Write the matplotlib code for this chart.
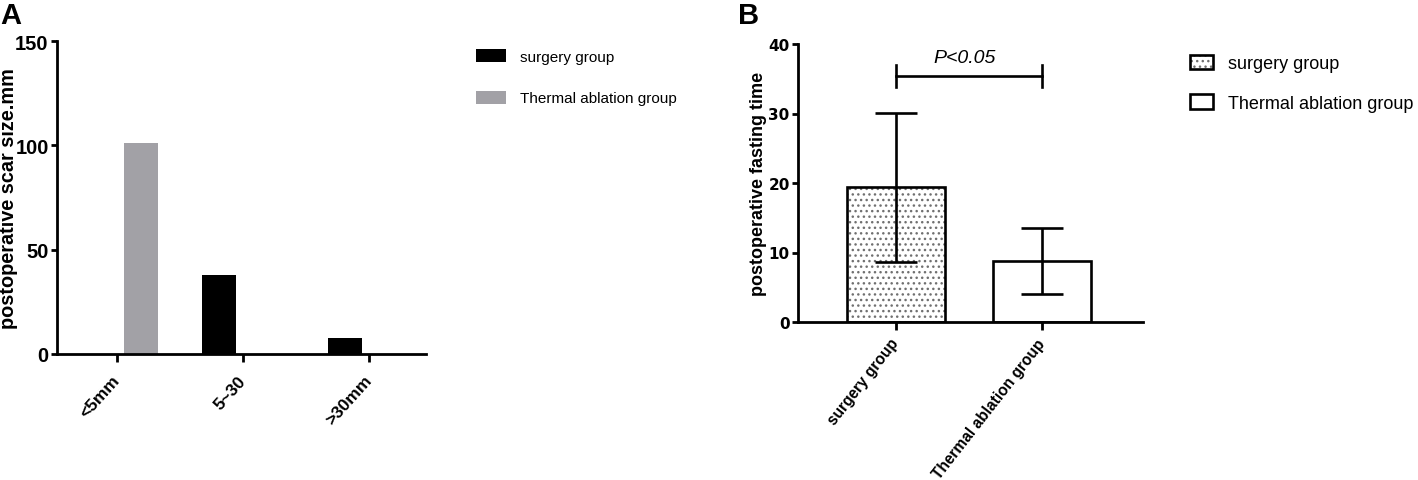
import matplotlib
matplotlib.use("Agg")
import matplotlib.pyplot as plt
from matplotlib.patches import Patch
import numpy as np

# Panel A: scar size counts
scar_cats = ["<5mm", "5~30", ">30mm"]
scar_surgery = [0, 38, 7.5]
scar_thermal = [101, 0, 0]

# Panel B: postoperative fasting time (mean, sd)
fast_groups = ["surgery group", "Thermal ablation group"]
fast_mean = [19.4, 8.8]
fast_sd = [10.7, 4.7]

W, H = 1418, 481
fig = plt.figure(figsize=(W / 100, H / 100), dpi=100)

arial = ["Liberation Sans", "DejaVu Sans"]


def px_axes(x0, y0, x1, y1):
    return fig.add_axes([x0 / W, 1 - y1 / H, (x1 - x0) / W, (y1 - y0) / H])


def style_axes(ax, lw, xpad):
    for s in ["top", "right"]:
        ax.spines[s].set_visible(False)
    for s in ["left", "bottom"]:
        ax.spines[s].set_linewidth(lw)
    ax.tick_params(axis="y", direction="out", length=4, width=lw, pad=2)
    ax.tick_params(axis="x", direction="out", length=6, width=lw, pad=xpad)


# ---------- Panel A ----------
axA = px_axes(57, 42, 426, 355)
style_axes(axA, 2.0, 11)
x = np.arange(len(scar_cats))
bw = 0.27
axA.bar(x - 0.19, scar_surgery, bw, color="black", label="surgery group")
axA.bar(x + 0.19, scar_thermal, bw, color="#a2a1a6", label="Thermal ablation group")
axA.set_xlim(-0.476, 2.45)
axA.set_ylim(0, 150)
axA.set_yticks([0, 50, 100, 150])
axA.set_yticklabels(["0", "50", "100", "150"], family=arial, fontweight="bold", fontsize=14.5)
axA.set_xticks(x)
axA.set_xticklabels(scar_cats, family=arial, fontweight="bold", fontsize=12.5,
                    rotation=48, ha="right", va="center", rotation_mode="anchor")
axA.set_ylabel("postoperative scar size.mm", family=arial, fontweight="bold",
               fontsize=14.3)
axA.yaxis.set_label_coords(-0.105, 0.5)
fig.text(0 / W, 1 - 2 / H, "A", family=arial, fontweight="bold", fontsize=21,
         ha="left", va="top")

hA = [Patch(facecolor="black", edgecolor="none"),
      Patch(facecolor="#a2a1a6", edgecolor="none")]
fig.legend(hA, ["surgery group", "Thermal ablation group"], loc="upper left",
           bbox_to_anchor=(476 / W, 1 - 50 / H), frameon=False,
           prop={"family": arial, "size": 11}, handlelength=1.95,
           handleheight=0.95, handletextpad=0.9, labelspacing=1.75,
           borderpad=0, borderaxespad=0)

# ---------- Panel B ----------
axB = px_axes(798, 45, 1143, 323)
style_axes(axB, 2.0, 7)
xb = np.arange(len(fast_groups))
bwb = 0.67
axB.bar(xb[0], fast_mean[0], bwb, facecolor="white", edgecolor="#707070",
        hatch="...", linewidth=0)
axB.bar(xb, fast_mean, bwb, facecolor="none", edgecolor="black", linewidth=1.9)
axB.errorbar(xb, fast_mean, yerr=fast_sd, fmt="none", ecolor="black",
             elinewidth=1.9, capsize=15, capthick=1.9)
axB.set_xlim(-0.67, 1.69)
axB.set_ylim(0, 40)
axB.set_yticks([0, 10, 20, 30, 40])
axB.set_yticklabels(["0", "10", "20", "30", "40"], family=["DejaVu Sans"],
                    fontweight="bold", fontsize=11)
axB.set_xticks(xb)
axB.set_xticklabels(fast_groups, family=arial, fontweight="bold", fontsize=11.2,
                    rotation=52, ha="right", va="center", rotation_mode="anchor")
axB.set_ylabel("postoperative fasting time", family=arial, fontweight="bold",
               fontsize=13)
axB.yaxis.set_label_coords(-0.09, 0.5)

# significance bracket
yb = 35.4
axB.plot([0, 1], [yb, yb], color="black", lw=1.9, clip_on=False)
axB.plot([0, 0], [33.8, 37.0], color="black", lw=1.9, clip_on=False)
axB.plot([1, 1], [33.8, 37.0], color="black", lw=1.9, clip_on=False)
axB.text(0.47, 38.1, "P<0.05", family=arial, style="italic", fontsize=14,
         ha="center", va="center")
fig.text(738 / W, 1 - 2 / H, "B", family=arial, fontweight="bold", fontsize=21,
         ha="left", va="top")

hB = [(Patch(facecolor="white", edgecolor="#707070", hatch="...", linewidth=0),
       Patch(facecolor="none", edgecolor="black", linewidth=1.9)),
      Patch(facecolor="white", edgecolor="black", linewidth=1.9)]
fig.legend(hB, ["surgery group", "Thermal ablation group"], loc="upper left",
           bbox_to_anchor=(1190 / W, 1 - 56 / H), frameon=False,
           prop={"family": arial, "size": 13}, handlelength=1.3,
           handleheight=0.85, handletextpad=0.8, labelspacing=1.2,
           borderpad=0, borderaxespad=0)

fig.savefig("out.png", dpi=100)
